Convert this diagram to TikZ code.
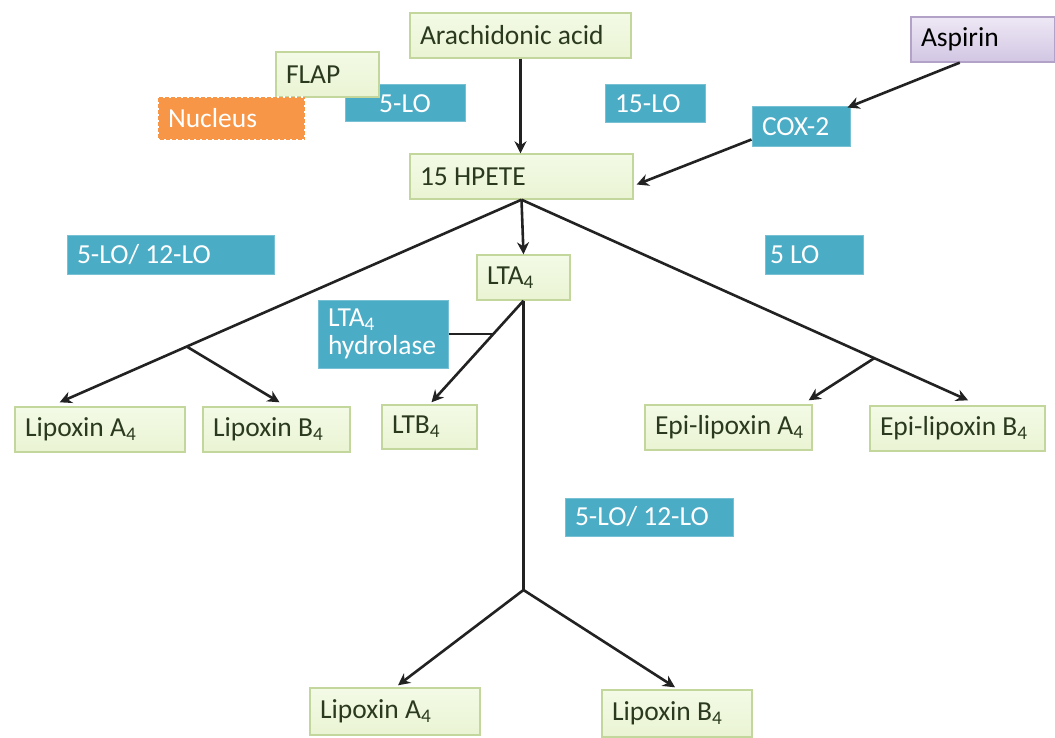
\documentclass[tikz,border=0pt]{standalone}
\usepackage{fontspec}
\setmainfont{Carlito}
\usetikzlibrary{arrows.meta,calc}
\definecolor{gfill}{HTML}{EAF4D3}
\definecolor{gtop}{HTML}{F3FAE6}
\definecolor{gdraw}{HTML}{C3D69B}
\definecolor{bfill}{HTML}{4BACC6}
\definecolor{ofill}{HTML}{F79646}
\definecolor{ptop}{HTML}{EEE8F5}
\definecolor{pbot}{HTML}{D2C6E3}
\definecolor{pdraw}{HTML}{B3A2C7}
\definecolor{ink}{HTML}{222222}
\definecolor{gtext}{HTML}{2B3A1E}
\newcommand\mybox[7]{%
  \pgfmathsetmacro\bw{#5-#3}%
  \pgfmathsetmacro\bh{#6-#4}%
  \pgfmathsetmacro\tw{#5-#3-20}%
  \pgfmathsetmacro\cx{(#3+#5)/2}%
  \pgfmathsetmacro\cy{(#4+#6)/2}%
  \node[#2, minimum width=\bw pt, minimum height=\bh pt, text width=\tw pt] (#1) at (\cx,\cy) {#7};}
\begin{document}
\begin{tikzpicture}[x=1pt,y=-1pt,
  base/.style={rectangle, inner xsep=10pt, inner ysep=1pt, align=flush left,
    font=\fontsize{27.5}{28.5}\selectfont},
  gbox/.style={base, top color=gtop, bottom color=gfill, draw=gdraw, line width=1.4pt, text=gtext},
  bbox/.style={base, fill=bfill, draw=bfill!75!white, line width=1pt, text=white},
  obox/.style={base, fill=ofill, draw=white, line width=1.8pt, dash pattern=on 2pt off 4pt, text=white},
  pbox/.style={base, top color=ptop, bottom color=pbot, draw=pdraw, line width=1.3pt, text=black},
  arr/.style={draw=ink, line width=2.6pt, -{Stealth[length=12pt,width=12pt]}},
  ln/.style={draw=ink, line width=2.8pt}]
\useasboundingbox (0,0) rectangle (1055,738);
\fill[white] (0,0) rectangle (1055,738);

% boxes
\mybox{ara}{gbox}{410}{13}{631}{58}{Arachidonic acid}
\mybox{asp}{pbox}{911}{17}{1055}{62}{Aspirin}
\mybox{lo5}{bbox, align=flush center}{345}{85}{465}{122}{5-LO}
\mybox{flap}{gbox}{276}{52}{379}{97}{FLAP}
\mybox{nuc}{obox}{158}{97}{305}{140}{Nucleus}
\mybox{lo15}{bbox}{605}{85}{705}{123}{15-LO}
\mybox{cox}{bbox}{752}{107}{850}{147}{COX-2}
\mybox{hpete}{gbox}{410}{154}{633}{199}{15 HPETE}
\mybox{lol}{bbox}{67}{236}{274}{274}{5-LO/ 12-LO}
\mybox{lta}{gbox}{477}{255}{570}{300}{LTA\textsubscript{4}}
\node[bbox, inner xsep=5pt, minimum width=98pt, minimum height=38pt, text width=88pt] (lor) at (814,255) {5 LO};
\mybox{hyd}{bbox}{318}{300}{448}{368}{LTA\textsubscript{4}\\hydrolase}
\mybox{lxa}{gbox}{15}{407}{185}{452}{Lipoxin A\textsubscript{4}}
\mybox{lxb}{gbox}{203}{407}{350}{452}{Lipoxin B\textsubscript{4}}
\mybox{ltb}{gbox}{382}{405}{477}{449}{LTB\textsubscript{4}}
\mybox{epa}{gbox}{645}{405}{812}{450}{\mbox{Epi-lipoxin A\textsubscript{4}}}
\mybox{epb}{gbox}{870}{406}{1045}{451}{\mbox{Epi-lipoxin B\textsubscript{4}}}
\mybox{lom}{bbox}{565}{498}{733}{536}{5-LO/ 12-LO}
\mybox{lxa2}{gbox}{310}{688}{480}{735}{Lipoxin A\textsubscript{4}}
\mybox{lxb2}{gbox}{602}{690}{752}{737}{Lipoxin B\textsubscript{4}}

% connectors
\draw[arr] (ara.south) -- (ara.south |- hpete.north);
\draw[arr] ($(asp.south west)!0.34!(asp.south east)$) -- ($(cox.north east)+(-3,1)$);
\draw[arr] ($(cox.south west)+(0,-8)$) -- ($(hpete.east)+(3,8)$);
\draw[arr] (hpete.south) -- (lta.north);

% left branch
\coordinate (ltip) at ($(lxa.north west)!0.265!(lxa.north east)+(0,-4)$);
\draw[arr] (hpete.south) -- (ltip);
\coordinate (lj) at ($(hpete.south)!0.725!(ltip)$);
\draw[arr] (lj) -- ($(lxb.north)+(3,-4)$);

% right branch
\coordinate (rtip) at ($(epb.north west)!0.56!(epb.north east)+(0,-5)$);
\draw[arr] (hpete.south) -- (rtip);
\coordinate (rj) at ($(hpete.south)!0.79!(rtip)$);
\draw[arr] (rj) -- ($(epa.north east)+(-4,-4)$);

% LTA4 -> LTB4 with hydrolase
\coordinate (ltbtip) at ($(ltb.north)+(2,-2)$);
\draw[arr] (lta.south) -- (ltbtip);
\coordinate (hj) at ($(lta.south)!0.33!(ltbtip)$);
\draw[ln] (hyd.east) -- (hyd.east -| hj);

% central branch
\coordinate (cj) at (lta.south |- 0,590);
\draw[ln] (lta.south) -- (cj);
\draw[arr] (cj) -- ($(lxa2.north)+(3,-2)$);
\draw[arr] (cj) -- ($(lxb2.north)+(-2,-2)$);
\end{tikzpicture}
\end{document}
